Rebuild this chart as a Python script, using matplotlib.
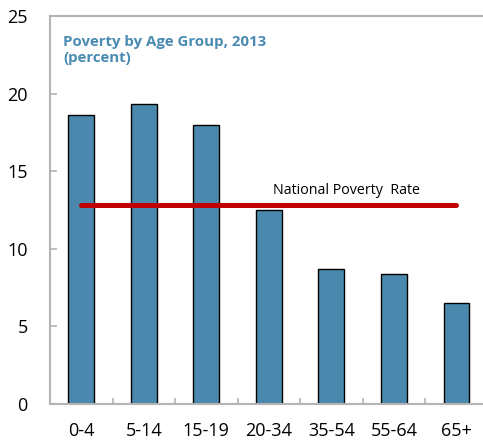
import matplotlib.pyplot as plt
import numpy as np

plt.rcParams['font.family'] = ['Open Sans', 'DejaVu Sans']

age_groups = ['0-4', '5-14', '15-19', '20-34', '35-54', '55-64', '65+']
poverty_rates = [18.6, 19.3, 18.0, 12.5, 8.7, 8.4, 6.5]
national_rate = 12.8

bar_color = '#4a89ad'
title_color = '#4a8bb3'
axis_gray = '#b4b4b4'

fig = plt.figure(figsize=(4.83, 4.43), dpi=100)
ax = fig.add_axes([0.1035, 0.088, 0.906, 0.876])

x = np.arange(len(age_groups))
ax.bar(x, poverty_rates, width=0.41, color=bar_color, edgecolor='black', linewidth=1.0, zorder=2)
ax.plot([x[0], x[-1]], [national_rate, national_rate], color='#c00000', linewidth=3.6,
        solid_capstyle='round', zorder=3)
ax.text(4.25, national_rate + 0.5, 'National Poverty  Rate', ha='center', va='bottom', fontsize=10.3)

ax.set_xlim(-0.5, len(age_groups) - 0.5)
ax.set_ylim(0, 25)
ax.set_yticks(range(0, 26, 5))
ax.set_xticks(x)
ax.set_xticklabels(age_groups)
ax.set_xticks(np.arange(0.5, len(age_groups) - 0.5), minor=True)

for side in ['left', 'top', 'bottom']:
    ax.spines[side].set_color(axis_gray)
    ax.spines[side].set_linewidth(1.5)
ax.spines['right'].set_visible(False)

ax.tick_params(axis='y', direction='in', length=5, color=axis_gray, width=1.2, pad=16, labelsize=13)
ax.tick_params(axis='x', which='major', length=0, pad=13, labelsize=13)
ax.tick_params(axis='x', which='minor', direction='in', length=4, color=axis_gray, width=1.2)

ax.text(0.03, 0.952, 'Poverty by Age Group, 2013\n(percent)', transform=ax.transAxes,
        ha='left', va='top', fontsize=10.8, fontweight='bold', color=title_color, linespacing=1.25)

fig.savefig('out.png', dpi=100)
